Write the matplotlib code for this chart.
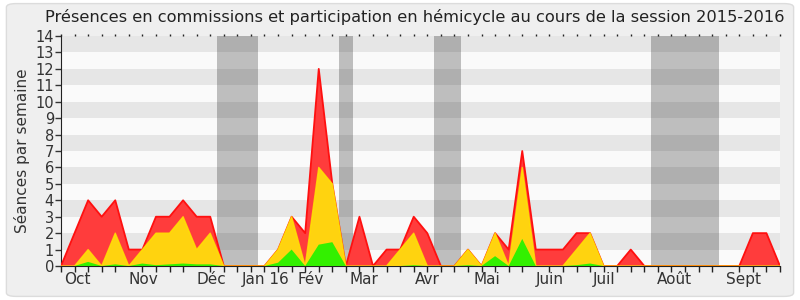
import matplotlib
matplotlib.use("Agg")
import matplotlib.pyplot as plt
from matplotlib.patches import FancyBboxPatch
import numpy as np

weeks = list(range(54))
total = [0, 2, 4, 3, 4, 1, 1, 3, 3, 4, 3, 3, 0, 0, 0, 0, 1, 3, 2, 12,
         5, 0, 3, 0, 1, 1, 3, 2, 0, 0, 1, 0, 2, 1, 7, 1, 1, 1, 2, 2,
         0, 0, 1, 0, 0, 0, 0, 0, 0, 0, 0, 2, 2, 0]
participation = [0, 0, 1, 0, 2, 0, 1, 2, 2, 3, 1, 2, 0, 0, 0, 0, 1, 3, 0, 6,
                 5, 0, 0, 0, 0, 1, 2, 0, 0, 0, 1, 0, 2, 0, 6, 0, 0, 0, 1, 2,
                 0, 0, 0, 0, 0, 0, 0, 0, 0, 0, 0, 0, 0, 0]
commission = [0, 0, 0.25, 0, 0.1, 0, 0.15, 0.05, 0.1, 0.15, 0.1, 0.1, 0, 0, 0, 0, 0.2, 1, 0, 1.3,
              1.45, 0, 0, 0, 0, 0, 0.05, 0, 0, 0, 0.05, 0, 0.6, 0, 1.65, 0, 0, 0, 0.05, 0.15,
              0, 0, 0, 0, 0, 0, 0, 0, 0, 0, 0, 0, 0, 0]
vacations = [(11.5, 14.5), (20.5, 21.5), (27.5, 29.5), (43.5, 48.5)]
month_labels = ["Oct", "Nov", "Déc", "Jan 16", "Fév", "Mar", "Avr", "Mai", "Juin", "Juil", "Août", "Sept"]
month_pos = [0.25, 5.0, 10.0, 13.3, 17.4, 21.3, 26.1, 30.4, 35.0, 39.2, 43.9, 49.0]
title = "Présences en commissions et participation en hémicycle au cours de la session 2015-2016"
ylabel = "Séances par semaine"

plt.rcParams['font.family'] = ['DejaVu Sans']
fig = plt.figure(figsize=(8, 3), dpi=100, facecolor='white')
bg = FancyBboxPatch((0.008, 0.012), 0.984, 0.976, boxstyle="round,pad=0,rounding_size=0.012",
                    transform=fig.transFigure, facecolor='#efefef', edgecolor='#dcdcdc',
                    linewidth=1, zorder=-10)
fig.patches.append(bg)

ax = fig.add_axes([61/800, 34/300, (780-61)/800, (266-36)/300])
ax.set_facecolor('#fafafa')
x = np.array(weeks)
ymax = 14
for k in range(ymax):
    if k % 2 == 1:
        ax.axhspan(k, k + 1, color='#e6e6e6', lw=0, zorder=0)

for a, b in vacations:
    ax.axvspan(a, b, color='black', alpha=0.24, lw=0, zorder=1)

t = np.array(total, float)
p = np.array(participation, float)
c = np.array(commission, float)
ax.fill_between(x, 0, t, facecolor='#ff3c3c', edgecolor='none', zorder=2)
ax.plot(x, t, color='#ff1010', lw=1.3, zorder=3)
ax.fill_between(x, 0, p, facecolor='#ffd30f', edgecolor='none', zorder=4)
ax.plot(x, p, color='#ffe600', lw=1.0, zorder=5, alpha=0.8)
ax.fill_between(x, 0, c, facecolor='#33f000', edgecolor='none', zorder=6)

ax.set_xlim(0, 53)
ax.set_ylim(0, ymax)
ax.set_yticks(range(0, ymax + 1))
ax.tick_params(axis='y', length=4, width=1, direction='out', labelsize=10.5, pad=1, colors='#333333')
ax.set_xticks(weeks, minor=True)
ax.set_xticks(month_pos)
ax.set_xticklabels(month_labels)
for lab in ax.get_xticklabels():
    lab.set_horizontalalignment('left')
ax.tick_params(axis='x', which='major', length=0, labelsize=11, pad=4, colors='#333333')
ax.tick_params(axis='x', which='minor', length=4, width=1, direction='out', colors='#222222')

top = ax.secondary_xaxis('top')
top.set_xticks([])
top.set_xticks(weeks, minor=True)
top.tick_params(axis='x', which='minor', length=1.5, width=1, direction='out', colors='#222222')
top.spines['top'].set_visible(False)

for s in ['top', 'right']:
    ax.spines[s].set_visible(False)
ax.spines['left'].set_color('#222222')
ax.spines['bottom'].set_color('#222222')
ax.set_ylabel(ylabel, fontsize=11, color='#333333', labelpad=4)
fig.text(415 / 800, 1 - 17 / 300, title, fontsize=11.7, color='#222222',
         ha='center', va='center')

fig.savefig("out.png", dpi=100, facecolor=fig.get_facecolor())
